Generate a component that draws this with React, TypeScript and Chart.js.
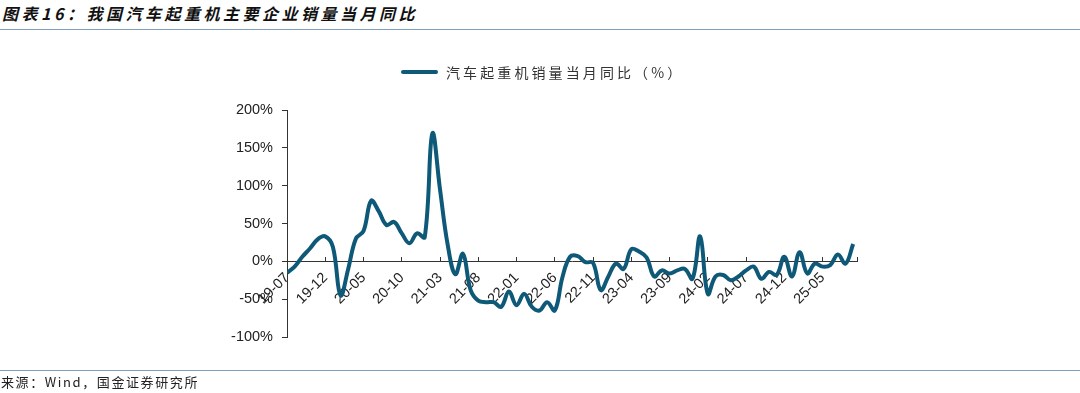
import React, { useEffect, useRef } from "react";
import { Chart, registerables } from "chart.js";

Chart.register(...registerables);

const months: string[] = [];
for (let y = 2019, m = 7; months.length < 75; ) {
  months.push(`${String(y).slice(2)}-${String(m).padStart(2, "0")}`);
  m++;
  if (m > 12) { m = 1; y++; }
}

const yoyValues: number[] = [
  -15, -7, 6, 17, 29, 33, 19, -45, -10, 30,
  40, 80, 66, 48, 52, 37, 24, 37, 32, 169,
  95, 22, -17, 10, -38, -52, -54, -54, -60, -40,
  -58, -43, -60, -65, -54, -65, -21, 6, 7, -1,
  -2, -38, -20, -3, -10, 16, 13, 5, -20, -12,
  -16, -12, -10, -23, 33, -43, -20, -18, -25, -20,
  -12, -7, -23, -14, -18, 6, -20, 12, -16, -3,
  -7, -5, 9, -3, 23,
];

const yTicks: number[] = [-100, -50, 0, 50, 100, 150, 200];
const seriesName = "汽车起重机销量当月同比（%）";
const titleText = "图表16：我国汽车起重机主要企业销量当月同比";
const sourceText = "来源：Wind，国金证券研究所";

const LINE_COLOR = "#0E5878";

export default function App() {
  const ref = useRef<HTMLCanvasElement | null>(null);

  useEffect(() => {
    document.body.style.margin = "0";
    const ctx = ref.current!;
    const xTickValues = [0, 5, 10, 15, 20, 25, 30, 35, 40, 45, 50, 55, 60, 65, 70, 74.5];
    const chart = new Chart(ctx, {
      type: "line",
      data: {
        datasets: [
          {
            label: seriesName,
            data: yoyValues.map((v, i) => ({ x: i, y: v })),
            borderColor: LINE_COLOR,
            backgroundColor: LINE_COLOR,
            borderWidth: 4,
            pointRadius: 0,
            tension: 0.4,
            fill: false,
          },
        ],
      },
      options: {
        animation: false,
        responsive: false,
        maintainAspectRatio: false,
        layout: { padding: { left: 0, right: 223, top: 110, bottom: 56 } },
        plugins: {
          legend: { display: false },
          tooltip: { enabled: false },
        },
        scales: {
          x: {
            type: "linear",
            position: { y: 0 },
            min: 0,
            max: 74.5,
            afterBuildTicks: (scale: any) => {
              scale.ticks = xTickValues.map((v) => ({ value: v }));
            },
            grid: {
              drawOnChartArea: false,
              drawTicks: true,
              tickLength: -5,
              tickColor: "#333",
            },
            border: { display: true, color: "#333", width: 1 },
            ticks: {
              autoSkip: false,
              minRotation: 45,
              maxRotation: 45,
              padding: 13,
              color: "#222",
              font: { family: "Liberation Sans, Arial", size: 14.5 },
              callback: (v: any) => {
                const n = Number(v);
                return Number.isInteger(n) && n % 5 === 0 ? months[n] : "";
              },
            },
          },
          y: {
            min: -100,
            max: 200,
            afterBuildTicks: (scale: any) => {
              scale.ticks = yTicks.map((v) => ({ value: v }));
            },
            afterFit: (scale: any) => {
              scale.width = 287;
            },
            grid: {
              drawOnChartArea: false,
              drawTicks: true,
              tickLength: 5,
              tickColor: "#333",
            },
            border: { display: true, color: "#333", width: 1 },
            ticks: {
              padding: 9,
              color: "#222",
              font: { family: "Liberation Sans, Arial", size: 14.5 },
              callback: (v: any) => `${v}%`,
            },
          },
        },
      },
    });
    return () => chart.destroy();
  }, []);

  return (
    <div style={{ position: "fixed", left: 0, top: 0, width: 1080, height: 393, background: "#fff", overflow: "hidden" }}>
      <div
        style={{
          position: "absolute",
          left: 2,
          top: 3,
          fontFamily: "'Noto Sans CJK SC', sans-serif",
          fontWeight: 700,
          fontStyle: "italic",
          fontSize: 16,
          letterSpacing: 3.5,
          color: "#111",
          lineHeight: "20px",
          whiteSpace: "nowrap",
        }}
      >
        {titleText}
      </div>
      <div style={{ position: "absolute", left: 0, top: 29, width: 1080, height: 1, background: "#7F9FBF" }} />
      <canvas ref={ref} width={1080} height={393} style={{ position: "absolute", left: 0, top: 0 }} />
      <div style={{ position: "absolute", left: 401, top: 70, width: 37, height: 4, background: LINE_COLOR, borderRadius: 2 }} />
      <div
        style={{
          position: "absolute",
          left: 446,
          top: 62,
          fontFamily: "'Noto Sans CJK SC', sans-serif",
          fontSize: 14,
          letterSpacing: 3.1,
          color: "#333",
          lineHeight: "20px",
          whiteSpace: "nowrap",
        }}
      >
        {seriesName}
      </div>
      <div style={{ position: "absolute", left: 0, top: 370, width: 1080, height: 1, background: "#7F9FBF" }} />
      <div
        style={{
          position: "absolute",
          left: 1,
          top: 373,
          fontFamily: "'Noto Sans CJK SC', sans-serif",
          fontSize: 13,
          letterSpacing: 1.6,
          color: "#222",
          lineHeight: "18px",
          whiteSpace: "nowrap",
        }}
      >
        {sourceText}
      </div>
    </div>
  );
}
